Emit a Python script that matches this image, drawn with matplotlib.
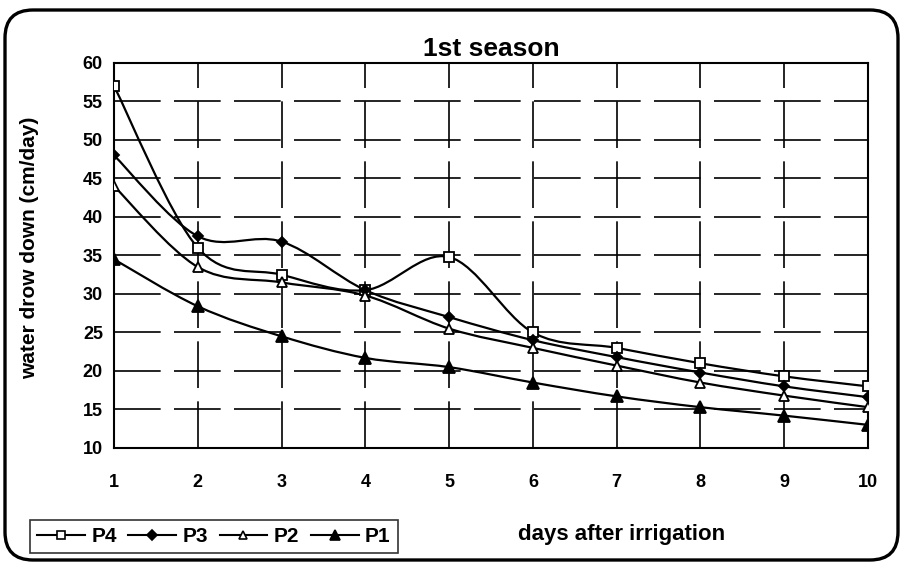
import numpy as np
import matplotlib
matplotlib.use("Agg")
from matplotlib import pyplot as plt
from matplotlib.path import Path
from matplotlib.patches import PathPatch, FancyBboxPatch
from matplotlib.lines import Line2D

plt.rcParams['font.family'] = ['Liberation Sans', 'DejaVu Sans']

days = [1, 2, 3, 4, 5, 6, 7, 8, 9, 10]
p4 = [57, 36, 32.5, 30.5, 34.8, 25, 23, 21, 19.3, 18]
p3 = [48, 37.5, 36.8, 30.5, 27, 24, 21.8, 19.8, 18, 16.6]
p2 = [44, 33.5, 31.5, 29.8, 25.5, 23, 20.7, 18.5, 16.8, 15.3]
p1 = [34.5, 28.4, 24.5, 21.7, 20.5, 18.5, 16.7, 15.3, 14.2, 13]

series = [("P4", p4, "s", "white"), ("P3", p3, "D", "black"),
          ("P2", p2, "^", "white"), ("P1", p1, "^", "black")]
msizes = {"P4": 7.5, "P3": 5.5, "P2": 7.5, "P1": 8.5}


def smooth_path(x, y, t=1 / 6):
    # excel-like smoothed line: cubic bezier through the data points
    pts = np.column_stack([x, y]).astype(float)
    verts = [pts[0]]
    codes = [Path.MOVETO]
    n = len(pts)
    for i in range(n - 1):
        p0 = pts[i - 1] if i > 0 else pts[i]
        p1_ = pts[i]
        p2_ = pts[i + 1]
        p3_ = pts[i + 2] if i + 2 < n else pts[i + 1]
        c1 = p1_ + (p2_ - p0) * t
        c2 = p2_ - (p3_ - p1_) * t
        verts += [c1, c2, p2_]
        codes += [Path.CURVE4] * 3
    return Path(verts, codes)


fig = plt.figure(figsize=(9.08, 5.65), dpi=100)
ax = fig.add_axes([0.1256, 0.2071, 0.8304, 0.6814])

for name, vals, mk, fc in series:
    ax.add_patch(PathPatch(smooth_path(days, vals), fill=False, lw=1.6,
                           edgecolor="black", zorder=3))
    ax.plot(days, vals, ls="none", marker=mk, ms=msizes[name],
            mfc=fc, mec="black", mew=1.3, zorder=4)

ax.set_xlim(1, 10)
ax.set_ylim(10, 60)
ax.set_xticks(days)
ax.set_yticks(range(10, 61, 5))
ax.grid(True, color="black", lw=1.2, ls=(0, (28, 8)))
ax.set_axisbelow(True)
for s in ax.spines.values():
    s.set_linewidth(1.5)
ax.tick_params(axis="both", length=0, labelsize=13)
ax.tick_params(axis="x", pad=19)
ax.tick_params(axis="y", pad=8)
for lbl in ax.get_xticklabels() + ax.get_yticklabels():
    lbl.set_fontweight("bold")

ax.set_title("1st season", fontsize=19, fontweight="bold", pad=5)
ax.set_ylabel("water drow down (cm/day)", fontsize=15, fontweight="bold")
ax.yaxis.set_label_coords(-0.10, 0.52)
fig.text(0.684, 0.035, "days after irrigation", fontsize=16,
         fontweight="bold", ha="center", va="bottom")

handles = [Line2D([], [], color="black", lw=1.5, marker=mk,
                  ms=msizes[name] * 0.85, mfc=fc, mec="black", mew=1.2)
           for name, vals, mk, fc in series]
leg = fig.legend(handles, [s[0] for s in series], ncol=4,
                 loc="lower left", bbox_to_anchor=(0.033, 0.021),
                 fontsize=15, frameon=True, fancybox=False,
                 handlelength=2.3, handletextpad=0.3, columnspacing=0.55,
                 borderpad=0.35, borderaxespad=0)
leg.get_frame().set_edgecolor("black")
leg.get_frame().set_linewidth(1.2)
for txt in leg.get_texts():
    txt.set_fontweight("bold")

# rounded outer border, in inches
fig.patches.append(FancyBboxPatch((0.05, 0.05), 8.93, 5.50,
                                  boxstyle="round,pad=0,rounding_size=0.28",
                                  transform=fig.dpi_scale_trans, fill=False,
                                  lw=2.4, edgecolor="black"))

fig.savefig("out.png", dpi=100)
